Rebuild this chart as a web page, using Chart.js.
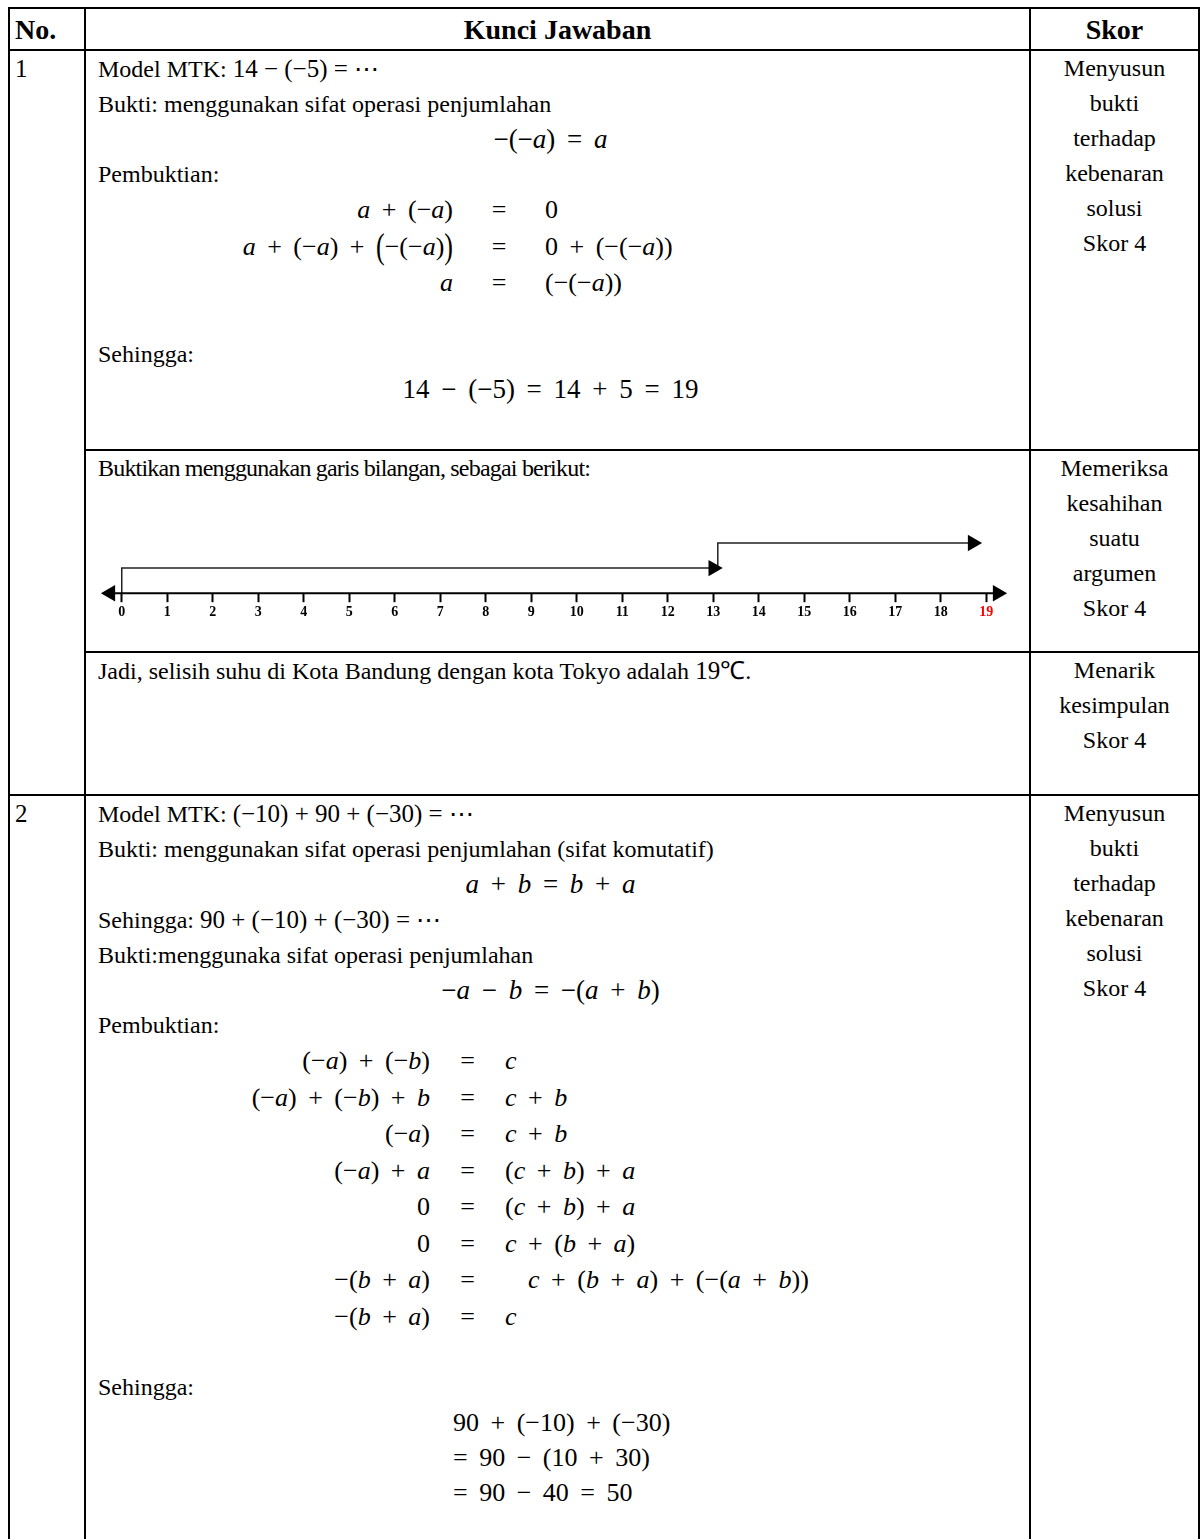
<!DOCTYPE html>
<html lang="id">
<head>
<meta charset="utf-8">
<title>Kunci Jawaban</title>
<script src="https://cdn.jsdelivr.net/npm/chart.js@4.4.1/dist/chart.umd.min.js"></script>
<style>
  html, body { margin: 0; padding: 0; background: #fff; overflow: hidden; }
  body { width: 1202px; height: 1539px; position: relative; font-family: "Liberation Serif", "Times New Roman", serif; font-size: 24px; color: #000; }
  #kunci { position: absolute; left: 8px; top: 7px; border-collapse: collapse; table-layout: fixed; }
  #kunci td, #kunci th { border: 2px solid #000; padding: 0; vertical-align: top; line-height: 35px; white-space: nowrap; }
  #kunci th { font-size: 28px; text-align: center; vertical-align: middle; }
  #kunci th.no { text-align: left; padding-left: 5px; }
  #kunci td.no { padding-left: 5px; font-size: 25px; }
  #kunci td.isi { padding-left: 12px; padding-right: 26px; }
  #kunci td.skor { text-align: center; }
  .tengah { text-align: center; }
  .m { font-size: 26px; word-spacing: 5px; }
  .tengah.m { font-size: 27px; }
  .mi { font-size: 25px; }
  .rapat { letter-spacing: -0.8px; }
  .persamaan { display: grid; line-height: 36.5px; }
  .persamaan.p1 { grid-template-columns: 355px 92px auto; }
  .persamaan.p2 { grid-template-columns: 332px 75px auto; }
  .persamaan > div:nth-child(3n+1) { text-align: right; }
  .persamaan > div:nth-child(3n+2) { text-align: center; }
  .kosong { height: 35px; }
  .besar { display: inline-block; transform: scale(1, 1.35); }
  .hasil { padding-left: 355px; }
  #garis { position: absolute; left: 99px; top: 528px; width: 910px; height: 95px; }
</style>
</head>
<body>
<table id="kunci">
  <colgroup><col style="width:76px"><col style="width:945px"><col style="width:169px"></colgroup>
  <tr style="height:42px">
    <th class="no">No.</th><th>Kunci Jawaban</th><th>Skor</th>
  </tr>
  <tr style="height:400px">
    <td class="no" rowspan="3">1</td>
    <td class="isi">
      <div>Model MTK: <span class="mi">14 − (−5) = ⋯</span></div>
      <div>Bukti: menggunakan sifat operasi penjumlahan</div>
      <div class="tengah m">−(−<i>a</i>) = <i>a</i></div>
      <div>Pembuktian:</div>
      <div class="persamaan p1 m">
        <div><i>a</i> + (−<i>a</i>)</div><div>=</div><div>0</div>
        <div><i>a</i> + (−<i>a</i>) + <span class="besar">(</span>−(−<i>a</i>)<span class="besar">)</span></div><div>=</div><div>0 + (−(−<i>a</i>))</div>
        <div><i>a</i></div><div>=</div><div>(−(−<i>a</i>))</div>
      </div>
      <div class="kosong"></div>
      <div>Sehingga:</div>
      <div class="tengah m">14 − (−5) = 14 + 5 = 19</div>
    </td>
    <td class="skor">Menyusun<br>bukti<br>terhadap<br>kebenaran<br>solusi<br>Skor 4</td>
  </tr>
  <tr style="height:202px">
    <td class="isi"><div class="rapat">Buktikan menggunakan garis bilangan, sebagai berikut:</div></td>
    <td class="skor">Memeriksa<br>kesahihan<br>suatu<br>argumen<br>Skor 4</td>
  </tr>
  <tr style="height:143px">
    <td class="isi"><div>Jadi, selisih suhu di Kota Bandung dengan kota Tokyo adalah <span class="mi">19℃</span>.</div></td>
    <td class="skor">Menarik<br>kesimpulan<br>Skor 4</td>
  </tr>
  <tr style="height:760px">
    <td class="no">2</td>
    <td class="isi">
      <div>Model MTK: <span class="mi">(−10) + 90 + (−30) = ⋯</span></div>
      <div>Bukti: menggunakan sifat operasi penjumlahan (sifat komutatif)</div>
      <div class="tengah m"><i>a</i> + <i>b</i> = <i>b</i> + <i>a</i></div>
      <div>Sehingga: <span class="mi">90 + (−10) + (−30) = ⋯</span></div>
      <div>Bukti:menggunaka sifat operasi penjumlahan</div>
      <div class="tengah m">−<i>a</i> − <i>b</i> = −(<i>a</i> + <i>b</i>)</div>
      <div>Pembuktian:</div>
      <div class="persamaan p2 m">
        <div>(−<i>a</i>) + (−<i>b</i>)</div><div>=</div><div><i>c</i></div>
        <div>(−<i>a</i>) + (−<i>b</i>) + <i>b</i></div><div>=</div><div><i>c</i> + <i>b</i></div>
        <div>(−<i>a</i>)</div><div>=</div><div><i>c</i> + <i>b</i></div>
        <div>(−<i>a</i>) + <i>a</i></div><div>=</div><div>(<i>c</i> + <i>b</i>) + <i>a</i></div>
        <div>0</div><div>=</div><div>(<i>c</i> + <i>b</i>) + <i>a</i></div>
        <div>0</div><div>=</div><div><i>c</i> + (<i>b</i> + <i>a</i>)</div>
        <div>−(<i>b</i> + <i>a</i>)</div><div>=</div><div>&nbsp;&nbsp;<i>c</i> + (<i>b</i> + <i>a</i>) + (−(<i>a</i> + <i>b</i>))</div>
        <div>−(<i>b</i> + <i>a</i>)</div><div>=</div><div><i>c</i></div>
      </div>
      <div class="kosong"></div>
      <div>Sehingga:</div>
      <div class="hasil m">90 + (−10) + (−30)</div>
      <div class="hasil m">= 90 − (10 + 30)</div>
      <div class="hasil m">= 90 − 40 = 50</div>
    </td>
    <td class="skor">Menyusun<br>bukti<br>terhadap<br>kebenaran<br>solusi<br>Skor 4</td>
  </tr>
</table>

<div id="garis"><canvas id="garisBilangan" width="910" height="95"></canvas></div>

<script>
// garis bilangan 0..19
const angka = [0, 1, 2, 3, 4, 5, 6, 7, 8, 9, 10, 11, 12, 13, 14, 15, 16, 17, 18, 19];
const angkaMerah = 19;
const sumbuX = [-0.25, 19.25];
const sumbuY = [0, 0];
const langkah1X = [0, 0, 13];
const langkah1Y = [0, 1, 1];
const langkah2X = [13.1, 13.1, 18.7];
const langkah2Y = [1, 2, 2];

function titik(xs, ys) {
    return xs.map((x, i) => ({ x: x, y: ys[i] }));
}

const panah = {
    pointStyle: 'triangle',
    pointBackgroundColor: '#000',
    pointBorderColor: '#000',
    pointBorderWidth: 0,
    pointHoverRadius: 0
};

new Chart(document.getElementById('garisBilangan'), {
    type: 'line',
    data: {
        datasets: [
            Object.assign({ data: titik(sumbuX, sumbuY), borderColor: '#000', borderWidth: 2, pointRadius: 9.5, pointRotation: [-90, 90] }, panah),
            Object.assign({ data: titik(langkah1X, langkah1Y), borderColor: '#222', borderWidth: 1.5, pointRadius: [0, 0, 9.5], pointRotation: 90 }, panah),
            Object.assign({ data: titik(langkah2X, langkah2Y), borderColor: '#222', borderWidth: 1.5, pointRadius: [0, 0, 9.5], pointRotation: 90 }, panah)
        ]
    },
    options: {
        responsive: false,
        animation: false,
        clip: false,
        layout: { padding: 0, autoPadding: false },
        plugins: { legend: { display: false }, tooltip: { enabled: false } },
        scales: {
            x: {
                type: 'linear',
                min: -0.5,
                max: 19.5,
                afterBuildTicks: s => { s.ticks = angka.map(v => ({ value: v })); },
                grid: { drawOnChartArea: false, drawTicks: true, tickLength: 9, tickWidth: 2, color: '#000' },
                border: { display: false },
                ticks: {
                    padding: 2,
                    autoSkip: false,
                    maxRotation: 0,
                    font: { family: 'Liberation Serif', size: 14, weight: 'bold' },
                    color: c => (c.tick && c.tick.value === angkaMerah) ? '#ff0000' : '#000'
                }
            },
            y: { type: 'linear', min: 0, max: 2.6, display: false }
        }
    }
});
</script>
</body>
</html>
